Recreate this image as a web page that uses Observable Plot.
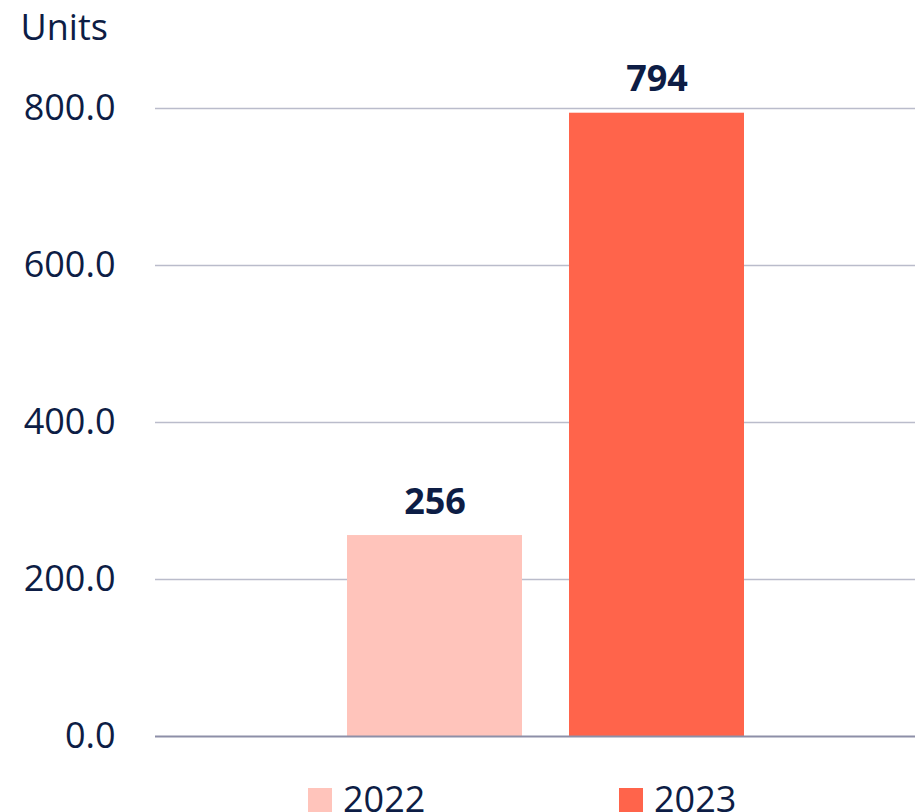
<!DOCTYPE html>
<html>
<head>
<meta charset="utf-8">
<script src="https://cdn.jsdelivr.net/npm/d3@7"></script>
<script src="https://cdn.jsdelivr.net/npm/@observablehq/plot@0.6"></script>
<style>
  html, body { margin: 0; padding: 0; background: #fff; }
  body { width: 915px; height: 812px; overflow: hidden; position: relative; font-family: "Open Sans", "Noto Sans", sans-serif; color: #0d1d45; }
  #chart { position: absolute; left: 0; top: 0; }
  .legend { position: absolute; top: 779px; left: 0; width: 915px; height: 40px; }
  .item { position: absolute; top: 0; display: flex; align-items: flex-start; font-size: 36px; line-height: 40px; }
  .sw { width: 24px; height: 24px; margin-right: 11px; margin-top: 9px; }
</style>
</head>
<body>
<div id="chart"></div>
<div class="legend" id="legend"></div>
<script>
const years = ["2022", "2023"];
const values = [256, 794];
const colors = ["#ffc4bb", "#ff644b"];
const yTicks = [0, 200, 400, 600, 800];
const yTitle = "Units";

const data = years.map((y, i) => ({year: y, value: values[i]}));

const chart = Plot.plot({
  width: 915,
  height: 780,
  marginLeft: 155,
  marginRight: 0,
  marginTop: 108,
  marginBottom: 44,
  style: {fontFamily: "'Open Sans', 'Noto Sans', sans-serif", fontSize: "36px", color: "#0d1d45", background: "#fff"},
  x: {domain: years, range: [299.2, 792], padding: 0.21, axis: null},
  y: {domain: [0, 800], ticks: yTicks, tickFormat: d3.format(".1f"), tickSize: 0, tickPadding: 40, label: null},
  color: {domain: years, range: colors},
  marks: [
    Plot.ruleY(yTicks.filter(d => d !== 0), {stroke: "#babccb", strokeWidth: 1.5, strokeOpacity: 1}),
    Plot.barY(data, {x: "year", y: "value", fill: "year"}),
    Plot.ruleY([0], {stroke: "#8d8fa8", strokeWidth: 2}),
    Plot.text(data, {x: "year", y: "value", text: d => String(d.value), fontWeight: "bold", fontSize: 36, fill: "#0d1d45", lineAnchor: "bottom", dy: -22}),
    Plot.text([yTitle], {frameAnchor: "top-left", dx: -135, dy: -94, text: d => d, fontSize: 36, fill: "#0d1d45", lineAnchor: "top", textAnchor: "start"})
  ]
});
document.getElementById("chart").appendChild(chart);

const legend = document.getElementById("legend");
const lefts = [308, 619];
years.forEach((y, i) => {
  const it = document.createElement("div");
  it.className = "item";
  it.style.left = lefts[i] + "px";
  const sw = document.createElement("div");
  sw.className = "sw";
  sw.style.background = colors[i];
  const t = document.createElement("span");
  t.textContent = y;
  it.appendChild(sw);
  it.appendChild(t);
  legend.appendChild(it);
});
</script>
</body>
</html>
